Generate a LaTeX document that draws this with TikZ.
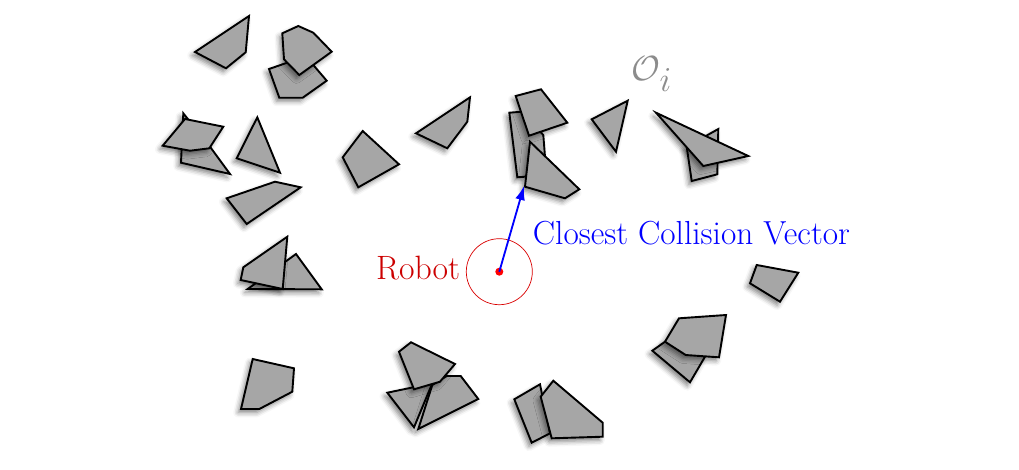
\documentclass[tikz,border=0pt]{standalone}
\usepackage{xcolor}
\usepackage{tikz}
\usetikzlibrary{arrows.meta,shadows.blur,positioning}
\usepackage{amsmath,amssymb}
\colorlet{obstGray}{black!35}
\colorlet{robotRed}{red!80!black}

\begin{document}
\begin{tikzpicture}[x=0.025cm, y=-0.025cm,
    obst/.style={draw=black, fill=obstGray, line width=1.35pt,
      blur shadow={shadow xshift=-2pt, shadow yshift=-2.5pt, shadow blur radius=3.5pt, shadow opacity=50}}]
      \useasboundingbox (0,0) rectangle (1019,469);
      % Top-left obstacles
      \draw[obst] (195,52) -- (249,16) -- (245.7,52.3) -- (226,68.3) -- cycle;
      \draw[obst] (269,69) -- (290,61.7) -- (313.3,65) -- (326.7,80.7) -- (302.7,97.7) -- (279.3,97.7) -- cycle;
      \draw[obst] (282.3,33.3) -- (298.3,26) -- (313.3,32.7) -- (331.7,51.7) -- (299.3,75) -- (284,59.3) -- cycle;
      \draw[obst] (183.3,113.3) -- (181,162.7) -- (230,174) -- (210,146.7) -- cycle;
      \draw[obst] (162.7,145.7) -- (185,119) -- (223.3,126.7) -- (209.3,148.3) -- (190,150.7) -- cycle;
      \draw[obst] (257.3,117.3) -- (280,172.7) -- (236.7,158.3) -- cycle;
      \draw[obst] (226.7,198.3) -- (275,181.7) -- (300.7,187.3) -- (246.7,224) -- cycle;
      \draw[obst] (296,254) -- (321.7,289.3) -- (247.7,289) -- cycle;
      \draw[obst] (243.3,267.3) -- (287.3,236.7) -- (282.7,289) -- (240.7,280) -- cycle;
      % Middle obstacles
      \draw[obst] (342.7,157.3) -- (362.7,131) -- (399,164.3) -- (358.3,187.3) -- cycle;
      \draw[obst] (416,133.3) -- (470,97.3) -- (467.3,121.7) -- (447.3,148.3) -- cycle;
      \draw[obst] (509.3,112.7) -- (521.7,111.7) -- (543.3,135) -- (545,156.7) -- (525,176.7) -- (517.3,177.3) -- cycle;
      \draw[obst] (515.7,96) -- (541,89.3) -- (567.3,122.7) -- (529,135.7) -- cycle;
      \draw[obst] (530,141.7) -- (579.3,189.3) -- (565,198.3) -- (525,186.7) -- cycle;
      % Top-right obstacles
      \draw[obst] (591.7,119.3) -- (627.7,100.7) -- (616,151.7) -- cycle;
      \draw[obst] (686.7,146.7) -- (718.3,129) -- (717.3,174.3) -- (691.7,181) -- cycle;
      \draw[obst] (656,112.7) -- (748.3,156) -- (703.3,166) -- cycle;
      % Right obstacles
      \draw[obst] (756.7,265) -- (798.3,272.7) -- (780,301.7) -- (750,283.3) -- cycle;
      \draw[obst] (652.3,350.7) -- (665,341.7) -- (705,356.7) -- (690,382.3) -- cycle;
      \draw[obst] (679,318.3) -- (726,315) -- (719,357.3) -- (685.7,355) -- (665,341.7) -- cycle;
      % Bottom obstacles
      \draw[obst] (252.7,359) -- (294,368.3) -- (292.3,391.7) -- (259.3,409) -- (241,409) -- cycle;
      \draw[obst] (387.3,392.7) -- (432.3,383.3) -- (414,427.3) -- cycle;
      \draw[obst] (418.3,429) -- (432.3,385) -- (446.7,376) -- (460.7,376) -- (478.3,399) -- cycle;
      \draw[obst] (399,351.7) -- (411,342.3) -- (455,364) -- (440,381.7) -- (414,389.3) -- cycle;
      \draw[obst] (514.3,399.3) -- (540,384.3) -- (550,433.3) -- (531.7,442.7) -- cycle;
      \draw[obst] (540.7,396.7) -- (553.3,380.7) -- (602.7,422.7) -- (602.7,436.7) -- (551.7,438.3) -- cycle;
      % Robot
      \node[circle, draw=red!85!black, line width=0.5pt, inner sep=0, minimum size=1.65cm] (robot) at (499.3,271.7) {};
      \node[circle, fill=red, inner sep=0, minimum size=0.2cm] (robotdot) at (robot.center) {};
      \node[robotRed, font=\fontsize{24}{28}\selectfont, left=0.02cm of robot, yshift=0.1cm] (robotlabel) {Robot};
      % Closest collision vector
      \coordinate (hit) at (524,186);
      \draw[-{Latex[length=10pt, width=7pt]}, blue, line width=1.3pt] (robotdot.center) -- (hit);
      \node[blue, font=\fontsize{23.7}{28}\selectfont, anchor=west] (veclabel) at (528,233) {Closest Collision Vector};
      % Obstacle label
      \node[black!45, font=\fontsize{33}{38}\selectfont] (obslabel) at (652,74) {$\mathcal{O}_i$};
    \end{tikzpicture}
\end{document}
